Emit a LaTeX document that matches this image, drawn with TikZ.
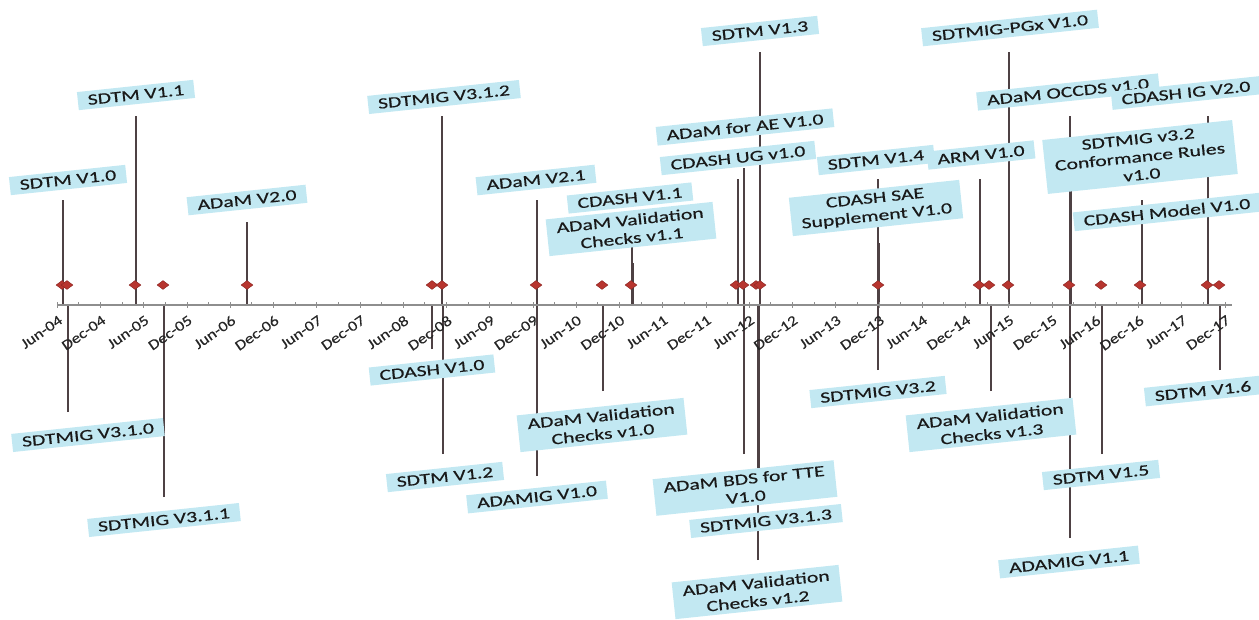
\documentclass[tikz,border=0pt]{standalone}
\usepackage{fontspec}
\setmainfont{Carlito}
\newfontfamily\lblfont{Carlito}[FakeStretch=1.4,FakeBold=0.4]
\newfontfamily\tickfont{Carlito}[FakeStretch=1.2,FakeBold=0.3]
\usetikzlibrary{shapes.geometric}
\definecolor{boxblue}{HTML}{C2E8F2}
\definecolor{stemgray}{HTML}{4E4144}
\definecolor{axisgray}{HTML}{8E8E8E}
\definecolor{gemred}{HTML}{B7352F}
\definecolor{gemdark}{HTML}{8A2622}

\begin{document}
\begin{tikzpicture}[x=1pt,y=-1pt,
  rel/.style={fill=boxblue,rotate=6,inner xsep=10pt,inner ysep=4pt,align=center,
    text=black!90,font=\lblfont\fontsize{15.5}{18}\selectfont},
  stem/.style={stemgray,line width=1.7pt},
  axisline/.style={axisgray,line width=1.5pt},
  gem/.style={diamond,fill=gemred,draw=gemdark,line width=0.4pt,
    minimum width=12pt,minimum height=9pt,inner sep=0pt},
  datelbl/.style={rotate=35,anchor=north east,inner sep=1pt,text=black!85,
    font=\tickfont\fontsize{14.5}{15}\selectfont}]
  \useasboundingbox (0,0) rectangle (1259,619);
  \coordinate (ax0) at (57,305);
  \coordinate (ax1) at (1232,305);

  % stems above the axis
  \coordinate (sA) at (63,200);
  \coordinate (sB) at (136,116);
  \coordinate (sC) at (247,222);
  \coordinate (sD) at (442,116);
  \coordinate (sE) at (537,200);
  \coordinate (sF) at (632,215);
  \coordinate (sG) at (633,263);
  \coordinate (sH) at (738,179);
  \coordinate (sI) at (744,168);
  \coordinate (sJ) at (760,52);
  \coordinate (sK) at (878,179);
  \coordinate (sL) at (879,243);
  \coordinate (sM) at (980,179);
  \coordinate (sN) at (1009,52);
  \coordinate (sO) at (1070,116);
  \coordinate (sP) at (1071,190);
  \coordinate (sQ) at (1142,200);
  \coordinate (sR) at (1208,116);
  % stems below the axis
  \coordinate (dA) at (68,412);
  \coordinate (dB) at (164,497);
  \coordinate (dC) at (432,349);
  \coordinate (dD) at (443,454);
  \coordinate (dE) at (537,476);
  \coordinate (dF) at (603,391);
  \coordinate (dG) at (744,454);
  \coordinate (dH) at (759.5,505);
  \coordinate (dI) at (758,560);
  \coordinate (dJ) at (878,370);
  \coordinate (dK) at (991,391);
  \coordinate (dL) at (1070,538);
  \coordinate (dM) at (1102,454);
  \coordinate (dN) at (1220,370);
  \foreach \s in {sA,sB,sC,sD,sE,sF,sG,sH,sI,sJ,sK,sL,sM,sN,sO,sP,sQ,sR,
                  dA,dB,dC,dD,dE,dF,dG,dH,dI,dJ,dK,dL,dM,dN}
    \draw[stem] (\s) -- (\s |- ax0);

  % time axis
  \draw[axisline] (ax0) -- (ax1);
  \foreach \m [count=\i from 0] in {Jun-04,Dec-04,Jun-05,Dec-05,Jun-06,Dec-06,
      Jun-07,Dec-07,Jun-08,Dec-08,Jun-09,Dec-09,Jun-10,Dec-10,Jun-11,Dec-11,
      Jun-12,Dec-12,Jun-13,Dec-13,Jun-14,Dec-14,Jun-15,Dec-15,Jun-16,Dec-16,
      Jun-17,Dec-17} {
    \pgfmathsetmacro\tx{57.3+43.25*\i}
    \draw[axisline,line width=1.1pt] (\tx,302) -- (\tx,308);
    \node[datelbl] (tk\i) at (\tx+1,313) {\m};
  }
  \foreach \i in {0,...,26}
    \draw[axisline,line width=1.1pt] ({78.9+43.25*\i},302) -- ({78.9+43.25*\i},305);

  % release markers
  \foreach \x [count=\k] in {62,67,135,163,247,432,442,536,602,631,736,743,756,
      760,878,979,989,1008,1069,1101,1140,1207,1219}
    \node[gem] (g\k) at (\x,285) {};

  % releases
  \node[rel] (sdtm10) at (68,180) {SDTM V1.0};
  \node[rel] (sdtm11) at (136,95) {SDTM V1.1};
  \node[rel] (adam20) at (247,200) {ADaM V2.0};
  \node[rel] (ig310) at (88,435) {SDTMIG V3.1.0};
  \node[rel] (ig311) at (164,520) {SDTMIG V3.1.1};
  \node[rel] (ig312) at (444,97) {SDTMIG V3.1.2};
  \node[rel] (cdash10) at (432,370) {CDASH V1.0};
  \node[rel] (sdtm12) at (445,477) {SDTM V1.2};
  \node[rel] (adam21) at (536,180) {ADaM V2.1};
  \node[rel] (adamig10) at (537,497) {ADAMIG V1.0};
  \node[rel] (val10) at (602,425) {ADaM Validation\\Checks v1.0};
  \node[rel] (cdash11) at (630,198) {CDASH V1.1};
  \node[rel] (val11) at (631,229) {ADaM Validation\\Checks v1.1};
  \node[rel] (cdashug) at (738,158) {CDASH UG v1.0};
  \node[rel] (adamae) at (745,127) {ADaM for AE V1.0};
  \node[rel] (sdtm13) at (760,31) {SDTM V1.3};
  \node[rel] (bdstte) at (745,488) {ADaM BDS for TTE\\V1.0};
  \node[rel] (ig313) at (766,521) {SDTMIG V3.1.3};
  \node[rel] (val12) at (757,592) {ADaM Validation\\Checks v1.2};
  \node[rel] (sdtm14) at (876,160) {SDTM V1.4};
  \node[rel] (cdashsae) at (876,208) {CDASH SAE\\Supplement V1.0};
  \node[rel] (ig32) at (878,392) {SDTMIG V3.2};
  \node[rel] (arm10) at (981,155) {ARM V1.0};
  \node[rel] (val13) at (991,425) {ADaM Validation\\Checks v1.3};
  \node[rel] (pgx10) at (1010,28) {SDTMIG-PGx V1.0};
  \node[rel] (occds10) at (1068,92) {ADaM OCCDS v1.0};
  \node[rel] (cdashig20) at (1186,93) {CDASH IG V2.0};
  \node[rel] (confrules) at (1140,157) {SDTMIG v3.2\\Conformance Rules\\v1.0};
  \node[rel] (cdashmodel) at (1167,212) {CDASH Model V1.0};
  \node[rel] (sdtm16) at (1203,391) {SDTM V1.6};
  \node[rel] (sdtm15) at (1101,475) {SDTM V1.5};
  \node[rel] (adamig11) at (1069,562) {ADAMIG V1.1};
\end{tikzpicture}
\end{document}
